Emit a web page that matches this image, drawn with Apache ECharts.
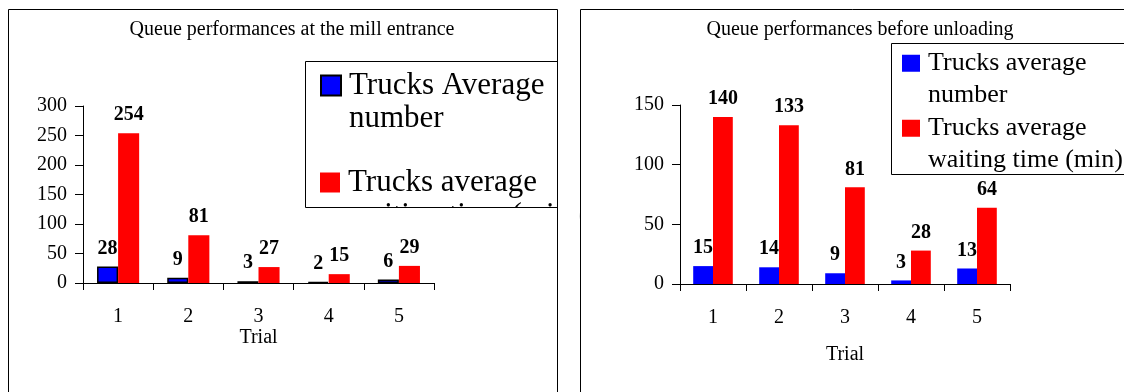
<!DOCTYPE html>
<html><head><meta charset="utf-8">
<script src="https://cdn.jsdelivr.net/npm/echarts@6/dist/echarts.min.js"></script>
<style>html,body{margin:0;padding:0;background:#fff}#c{width:1124px;height:392px}</style>
</head><body><div id="c"></div>
<script>
const categories = ['1', '2', '3', '4', '5'];
const millAvgNumber = [28, 9, 3, 2, 6];
const millAvgWaiting = [254, 81, 27, 15, 29];
const unloadAvgNumber = [15, 14, 9, 3, 13];
const unloadAvgWaiting = [140, 133, 81, 28, 64];
const leftSeriesNames = ['Trucks Average number', 'Trucks average waiting time (min)'];
const rightSeriesNames = ['Trucks average number', 'Trucks average waiting time (min)'];
const leftTitle = 'Queue performances at the mill entrance';
const rightTitle = 'Queue performances before unloading';
const xAxisName = 'Trial';
const leftYMax = 300, rightYMax = 150, yStep = 50;

const FONT = 'Liberation Serif';
// leading blank line keeps the first text line level with the legend icon
const wrap = n => ' \n' + n.replace(' number', '\nnumber').replace(' waiting', '\nwaiting');

const chart = echarts.init(document.getElementById('c'), null, {renderer: 'canvas'});

function xAxis(gridIndex, nameGap) {
  return {
    type: 'category', gridIndex, data: categories,
    name: xAxisName, nameLocation: 'middle', nameGap,
    nameTextStyle: {fontFamily: FONT, fontSize: 20, color: '#000'},
    axisLine: {lineStyle: {color: '#000', width: 1}},
    axisTick: {show: true, length: 7, lineStyle: {color: '#000'}},
    axisLabel: {fontFamily: FONT, fontSize: 20, color: '#000', margin: 24},
    splitLine: {show: false}
  };
}
function yAxis(gridIndex, max) {
  return {
    type: 'value', gridIndex, min: 0, max, interval: yStep,
    axisLine: {show: true, lineStyle: {color: '#000', width: 1}},
    axisTick: {show: true, length: 8, lineStyle: {color: '#000'}},
    axisLabel: {fontFamily: FONT, fontSize: 20, color: '#000', margin: 16},
    splitLine: {show: false}
  };
}
const labelStyle = {show: true, position: 'top', distance: 8, fontFamily: FONT, fontSize: 20, fontWeight: 'bold', color: '#000'};

function legend(name, left, top, iw, ih, fs, lh) {
  return {
    data: [name], orient: 'vertical', left, top, padding: 0,
    icon: 'rect', itemWidth: iw, itemHeight: ih, selectedMode: false,
    formatter: wrap,
    textStyle: {fontFamily: FONT, fontSize: fs, lineHeight: lh, color: '#000', padding: [0, 0, 0, 3]}
  };
}

chart.setOption({
  animation: false,
  backgroundColor: '#fff',
  title: [
    {text: leftTitle, left: 292, top: 20, textAlign: 'center', padding: 0,
     textStyle: {fontFamily: FONT, fontSize: 20, fontWeight: 'normal', color: '#000'}},
    {text: rightTitle, left: 860, top: 20, textAlign: 'center', padding: 0,
     textStyle: {fontFamily: FONT, fontSize: 20, fontWeight: 'normal', color: '#000'}}
  ],
  grid: [
    {left: 83, top: 106, width: 351, height: 177},
    {left: 680, top: 105, width: 330, height: 179}
  ],
  xAxis: [xAxis(0, 45), xAxis(1, 61)],
  yAxis: [yAxis(0, leftYMax), yAxis(1, rightYMax)],
  legend: [
    legend(leftSeriesNames[0], 320, 36, 20, 20, 31, 33),
    legend(leftSeriesNames[1], 320, 133, 20, 20, 31, 33),
    legend(rightSeriesNames[0], 902, 16, 18, 17, 26, 31.5),
    legend(rightSeriesNames[1], 902, 81, 18, 17, 26, 31.5)
  ],
  series: [
    {type: 'bar', name: leftSeriesNames[0], xAxisIndex: 0, yAxisIndex: 0, data: millAvgNumber,
     barGap: '0%', barCategoryGap: '40%',
     itemStyle: {color: '#0000FF', borderColor: '#000', borderWidth: 1.5}, label: labelStyle},
    {type: 'bar', name: leftSeriesNames[1], xAxisIndex: 0, yAxisIndex: 0, data: millAvgWaiting,
     barGap: '0%', barCategoryGap: '40%',
     itemStyle: {color: '#FF0000'}, label: labelStyle},
    {type: 'bar', name: rightSeriesNames[0], xAxisIndex: 1, yAxisIndex: 1, data: unloadAvgNumber,
     barGap: '0%', barCategoryGap: '40%',
     itemStyle: {color: '#0000FF'}, label: labelStyle},
    {type: 'bar', name: rightSeriesNames[1], xAxisIndex: 1, yAxisIndex: 1, data: unloadAvgWaiting,
     barGap: '0%', barCategoryGap: '40%',
     itemStyle: {color: '#FF0000'}, label: labelStyle}
  ],
  graphic: {
    elements: [
      {type: 'rect', z: 100, silent: true, shape: {x: 306, y: 207.5, width: 273, height: 24}, style: {fill: '#fff'}},
      {type: 'rect', z: 100, silent: true, shape: {x: 558.5, y: 60, width: 21, height: 172}, style: {fill: '#fff'}},
      {type: 'rect', z: 101, silent: true, shape: {x: 8.5, y: 9.5, width: 549, height: 400}, style: {fill: 'none', stroke: '#000', lineWidth: 1}},
      {type: 'rect', z: 101, silent: true, shape: {x: 580.5, y: 9.5, width: 560, height: 400}, style: {fill: 'none', stroke: '#000', lineWidth: 1}},
      {type: 'rect', z: 101, silent: true, shape: {x: 305.5, y: 61.5, width: 252, height: 146}, style: {fill: 'none', stroke: '#000', lineWidth: 1}},
      {type: 'rect', z: 101, silent: true, shape: {x: 891.5, y: 43.5, width: 250, height: 131}, style: {fill: 'none', stroke: '#000', lineWidth: 1}}
    ]
  }
});
</script></body></html>
